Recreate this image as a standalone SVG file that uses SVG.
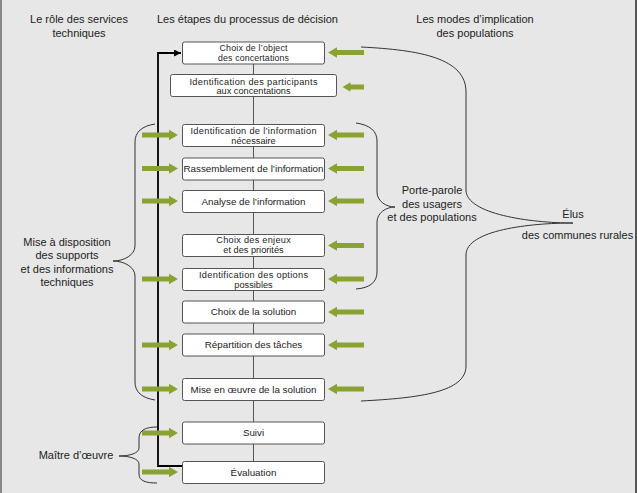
<svg xmlns="http://www.w3.org/2000/svg" width="637" height="493" viewBox="0 0 637 493">
<defs>
<style>
text{font-family:"Liberation Sans",Arial,sans-serif;fill:#222;}
.h{font-size:11px;text-anchor:middle;}
.b{font-size:9.8px;text-anchor:middle;}
.b2{font-size:9.2px;text-anchor:middle;}
.b9{font-size:8.8px;text-anchor:middle;}
.box{fill:#fff;stroke:#555;stroke-width:1;}
.link{stroke:#555;stroke-width:1;fill:none;}
.brace{stroke:#333;stroke-width:1;fill:none;}
.ga{fill:#8aa232;}
</style>
<marker id="ah" viewBox="0 0 10 10" refX="10" refY="5" markerWidth="7" markerHeight="7" markerUnits="userSpaceOnUse" orient="auto">
<path d="M0,0 L10,5 L0,10 z" fill="#000"/>
</marker>
<path id="ar" d="M0,-2.4 L27,-2.4 L27,-5.3 L36,0 L27,5.3 L27,2.4 L0,2.4 z"/>
<path id="al" d="M0,-2.4 L-27,-2.4 L-27,-5.3 L-36,0 L-27,5.3 L-27,2.4 L0,2.4 z"/>
</defs>
<rect x="0" y="0" width="637" height="493" fill="#e7e7e7"/>
<line x1="1" y1="0" x2="1" y2="493" stroke="#888" stroke-width="2"/>
<line x1="636" y1="0" x2="636" y2="493" stroke="#555" stroke-width="2"/>

<g id="headers">
<text class="h" x="79" y="22.5">Le rôle des services</text>
<text class="h" x="79" y="36.5">techniques</text>
<text class="h" x="247.5" y="22.5">Les étapes du processus de décision</text>
<text class="h" x="475" y="22.5">Les modes d’implication</text>
<text class="h" x="475" y="36.5">des populations</text>
</g>

<g id="connectors">
<line class="link" x1="253.5" y1="64" x2="253.5" y2="461"/>
<polyline points="182,466 158,466 158,53 181,53" fill="none" stroke="#000" stroke-width="1.8" marker-end="url(#ah)"/>
<g class="ga">
<use href="#ar" x="142" y="135"/>
<use href="#ar" x="142" y="168.5"/>
<use href="#ar" x="142" y="201"/>
<use href="#ar" x="142" y="279"/>
<use href="#ar" x="142" y="345"/>
<use href="#ar" x="142" y="389"/>
<use href="#ar" x="142" y="433"/>
<use href="#ar" x="142" y="472"/>
<use href="#al" x="364" y="52.5"/>
<path d="M364,84.4 L350.5,84.4 L350.5,82.3 L342.5,87 L350.5,91.7 L350.5,89.6 L364,89.6 z"/>
<use href="#al" x="364" y="135"/>
<use href="#al" x="364" y="168.5"/>
<use href="#al" x="364" y="201"/>
<use href="#al" x="364" y="245.5"/>
<use href="#al" x="364" y="279"/>
<use href="#al" x="364" y="312"/>
<use href="#al" x="364" y="345"/>
<use href="#al" x="364" y="389"/>
</g>
<path class="brace" d="M155,124 C142,126 135,132 135,142 L135,246 C135,255 124,261 113,261 C124,261 135,267 135,276 L135,382 C135,392 142,398 155,400"/>
<path class="brace" d="M157,427 C146,427 139,430 139,438 L139,448 C139,453 130,456 119,456 C130,456 139,459 139,464 L139,474 C139,481 146,483 157,483"/>
<path class="brace" d="M356,123 C370,125 377,131 377,141 L377,192 C377,201 386,207 395,207 C386,207 377,213 377,222 L377,272 C377,282 370,288 356,289"/>
<path class="brace" d="M361,47 C420,50 466,58 466,92 L466,190 C466,214 530,223 573,223 C530,223 466,230 466,255 L466,366 C466,392 420,398 361,401"/>
</g>

<g id="n1"><rect class="box" x="182.5" y="42" width="142" height="22" rx="2"/><text class="b9" x="253.5" y="51.3" textLength="68" lengthAdjust="spacing">Choix de l’object</text><text class="b9" x="253.5" y="60.7" textLength="71" lengthAdjust="spacing">des concertations</text></g>
<g id="n2"><rect class="box" x="170.5" y="74.5" width="166" height="22" rx="2"/><text class="b2" x="253.5" y="84.7" textLength="128" lengthAdjust="spacing">Identification des participants</text><text class="b2" x="253.5" y="94.3">aux concentations</text></g>
<g id="n3"><rect class="box" x="182.5" y="124.5" width="142" height="22" rx="2"/><text class="b2" x="253.5" y="134" textLength="126" lengthAdjust="spacing">Identification de l’information</text><text class="b2" x="253.5" y="143.6">nécessaire</text></g>
<g id="n4"><rect class="box" x="182.5" y="158" width="142" height="22" rx="2"/><text class="b" x="253.5" y="172.3" textLength="140" lengthAdjust="spacingAndGlyphs">Rassemblement de l’information</text></g>
<g id="n5"><rect class="box" x="182.5" y="190.5" width="142" height="22" rx="2"/><text class="b" x="253.5" y="204.8">Analyse de l’information</text></g>
<g id="n6"><rect class="box" x="182.5" y="234.5" width="142" height="22" rx="2"/><text class="b2" x="253.5" y="243.1" textLength="74.5" lengthAdjust="spacing">Choix des enjeux</text><text class="b2" x="253.5" y="252.7">et des priorités</text></g>
<g id="n7"><rect class="box" x="182.5" y="268.5" width="142" height="22" rx="2"/><text class="b2" x="253.5" y="277.9" textLength="109" lengthAdjust="spacing">Identification des options</text><text class="b2" x="253.5" y="287.5">possibles</text></g>
<g id="n8"><rect class="box" x="182.5" y="301" width="142" height="22" rx="2"/><text class="b" x="253.5" y="315.3">Choix de la solution</text></g>
<g id="n9"><rect class="box" x="182.5" y="334" width="142" height="22" rx="2"/><text class="b" x="253.5" y="348.3">Répartition des tâches</text></g>
<g id="n10"><rect class="box" x="182.5" y="378.5" width="142" height="22" rx="2"/><text class="b" x="253.5" y="392.8">Mise en œuvre de la solution</text></g>
<g id="n11"><rect class="box" x="182.5" y="422" width="142" height="22" rx="2"/><text class="b" x="253.5" y="436.3">Suivi</text></g>
<g id="n12"><rect class="box" x="182.5" y="461.5" width="142" height="22" rx="2"/><text class="b" x="253.5" y="475.8">Évaluation</text></g>

<g id="labels">
<text class="h" x="67" y="246">Mise à disposition</text>
<text class="h" x="67" y="259.3">des supports</text>
<text class="h" x="67" y="272.7">et des informations</text>
<text class="h" x="67" y="286">techniques</text>
<text class="h" x="432" y="194">Porte-parole</text>
<text class="h" x="432" y="207.5">des usagers</text>
<text class="h" x="432" y="221">et des populations</text>
<text class="h" x="573" y="217.7">Élus</text>
<text class="h" x="577.5" y="239.3">des communes rurales</text>
<text class="h" x="76" y="459">Maître d’œuvre</text>
</g>
</svg>
